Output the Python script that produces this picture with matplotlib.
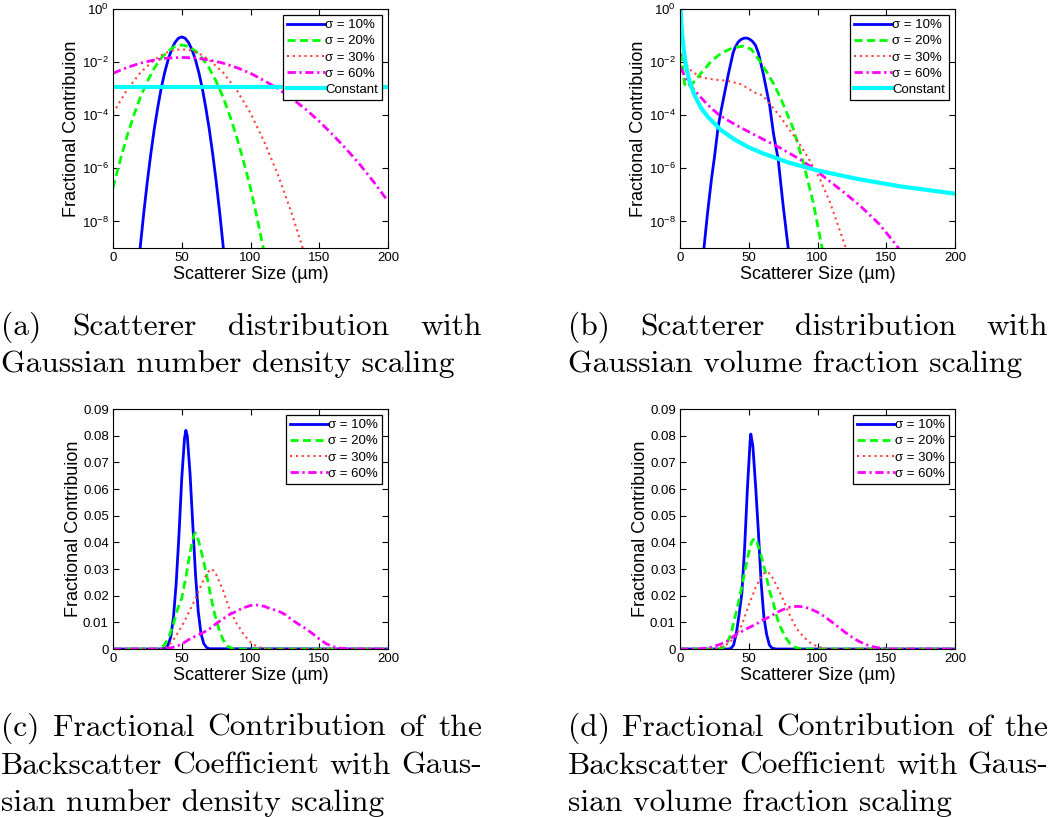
import matplotlib
matplotlib.use("Agg")
import matplotlib.pyplot as plt
from matplotlib.ticker import FixedLocator, FuncFormatter, NullLocator

plt.rcParams['font.family'] = ['Liberation Sans', 'DejaVu Sans']
plt.rcParams['mathtext.fontset'] = 'custom'
plt.rcParams['mathtext.rm'] = 'Liberation Sans'

labels5 = ['σ = 10%', 'σ = 20%', 'σ = 30%', 'σ = 60%', 'Constant']

# (a) number density scaling, log axis
a_x10 = [18, 20, 22.5, 25, 27.5, 30, 32.5, 35, 37.5, 40, 42.5, 45, 47.5, 50,
         52.5, 55, 57.5, 60, 62.5, 65, 67.5, 70, 72.5, 75, 77.5, 80, 82]
a_y10 = [1.1e-10, 1.35e-9, 2.4e-8, 3.3e-7, 3.5e-6, 3.0e-5, 1.9e-4, 1.0e-3, 3.9e-3, 1.2e-2, 2.9e-2, 5.4e-2, 7.9e-2, 8.9e-2,
         7.9e-2, 5.4e-2, 2.9e-2, 1.2e-2, 3.9e-3, 1.0e-3, 1.9e-4, 3.0e-5, 3.5e-6, 3.3e-7, 2.4e-8, 1.35e-9, 1.1e-10]
a_x20 = [0, 5, 10, 15, 20, 25, 30, 35, 40, 45, 50, 55, 60, 65, 70, 75, 80, 85, 90, 95, 100, 105, 110]
a_y20 = [1.8e-7, 1.8e-6, 1.5e-5, 9.5e-5, 4.9e-4, 1.9e-3, 5.9e-3, 1.4e-2, 2.6e-2, 3.9e-2, 4.4e-2,
         3.9e-2, 2.6e-2, 1.4e-2, 5.9e-3, 1.9e-3, 4.9e-4, 9.5e-5, 1.5e-5, 1.8e-6, 1.8e-7, 1.2e-8, 6.8e-10]
a_x30 = [0, 10, 20, 30, 35, 40, 45, 50, 55, 60, 65, 70, 80, 90, 100, 110, 120, 130, 140]
a_y30 = [1.2e-4, 8.7e-4, 4.1e-3, 1.2e-2, 1.8e-2, 2.4e-2, 2.9e-2, 3.0e-2, 2.9e-2, 2.4e-2, 1.8e-2, 1.2e-2,
         4.1e-3, 8.7e-4, 1.2e-4, 1.0e-5, 5.6e-7, 2.0e-8, 4.6e-10]
a_x60 = [0, 10, 20, 30, 40, 50, 60, 70, 80, 90, 100, 110, 120, 130, 140, 150, 160, 170, 180, 190, 200]
a_y60 = [3.8e-3, 6.2e-3, 9.2e-3, 1.2e-2, 1.43e-2, 1.5e-2, 1.43e-2, 1.2e-2, 9.2e-3, 6.2e-3, 3.8e-3,
         2.0e-3, 1.0e-3, 4.3e-4, 1.7e-4, 5.9e-5, 1.8e-5, 5.1e-6, 1.3e-6, 2.9e-7, 5.7e-8]
a_xc = [0, 200]
a_yc = [1.2e-3, 1.2e-3]

# (b) volume fraction scaling, log axis
b_x10 = [15, 17.5, 20, 22.9, 25, 27.7, 30, 35, 38.6, 40, 42.2, 44, 46, 47.8, 49.5, 51.5, 53, 55, 57,
         60.4, 65.3, 68, 71.4, 75, 78.6, 80]
b_y10 = [1e-10, 1.1e-9, 2e-8, 4e-7, 2.5e-6, 3.5e-5, 1.6e-4, 3.2e-3, 2.2e-2, 3.5e-2, 5.6e-2, 6.9e-2, 7.8e-2,
         8.1e-2, 7.8e-2, 6.8e-2, 5.8e-2, 4.2e-2, 2.2e-2, 4.0e-3, 2.2e-4, 2.0e-5, 2.2e-6, 4.0e-8, 1.1e-9, 2.5e-10]
b_x20 = [0.5, 3.4, 5.8, 9.5, 15.6, 22.9, 30.1, 38.6, 45.9, 52, 58, 64.1, 69, 74, 82.3, 89.6, 96.8, 103, 105]
b_y20 = [2.2e-2, 1.45e-3, 1.1e-3, 1.65e-3, 4.0e-3, 1.1e-2, 2.2e-2, 3.5e-2, 4.0e-2, 3.0e-2, 1.1e-2, 3.5e-3,
         1.25e-3, 3.5e-4, 3.2e-5, 1.7e-6, 5.4e-8, 1.25e-9, 2.5e-10]
b_x30 = [1, 4, 8.3, 15.6, 25.3, 35, 44.7, 54.4, 60, 64, 68, 72.6, 76.2, 84.7, 93.2, 101.7, 109, 120, 122]
b_y30 = [1.95e-2, 8.9e-3, 4.6e-3, 2.6e-3, 2.2e-3, 1.95e-3, 1.45e-3, 7.1e-4, 5.6e-4, 3.2e-4, 1.8e-4, 9.3e-5,
         5.0e-5, 1.26e-5, 2.5e-6, 4.0e-7, 5.4e-8, 1.25e-9, 5e-10]
b_x60 = [0.5, 3, 7, 12, 20, 27.7, 35, 44.7, 58, 72.6, 87.1, 97, 106.6, 118, 130.8, 145, 157.5, 160]
b_y60 = [6.3e-3, 3.2e-3, 1.45e-3, 7.1e-4, 2.5e-4, 1.1e-4, 6.3e-5, 3.3e-5, 1.45e-5, 6.0e-6, 2.2e-6, 1.0e-6,
         4.0e-7, 1.4e-7, 4.0e-8, 7.9e-9, 1.25e-9, 8e-10]
b_xc = [0.5, 1, 1.5, 2, 3, 4, 5, 7, 10, 15, 20, 30, 40, 50, 60, 80, 100, 130, 160, 200]
b_yc = [0.8, 0.25, 0.12, 0.065, 2.2e-2, 9.4e-3, 4.9e-3, 1.86e-3, 6.6e-4, 2.0e-4, 8.9e-5, 2.7e-5, 1.19e-5,
        6.2e-6, 3.7e-6, 1.59e-6, 8.3e-7, 3.9e-7, 2.1e-7, 1.11e-7]

# (c) backscatter contribution, number density scaling
c_x10 = [0, 35, 38, 40, 42, 44, 46, 48, 50, 52, 53, 54, 56, 58, 60, 62, 64, 66, 68, 70, 200]
c_y10 = [0, 0, 0.0003, 0.0014, 0.0045, 0.012, 0.025, 0.043, 0.064, 0.079, 0.082, 0.080, 0.066, 0.047,
         0.028, 0.014, 0.0058, 0.002, 0.0006, 0.0001, 0]
c_x20 = [0, 32, 35, 38, 41, 44, 47, 50, 53, 56, 59, 60, 62, 65, 68, 71, 74, 77, 80, 83, 86, 90, 200]
c_y20 = [0, 0, 0.0003, 0.002, 0.005, 0.0095, 0.015, 0.019, 0.027, 0.036, 0.043, 0.0435, 0.041, 0.035,
         0.028, 0.020, 0.013, 0.0075, 0.0035, 0.0012, 0.0003, 0, 0]
c_x30 = [0, 35, 40, 45, 50, 55, 60, 65, 70, 72, 75, 80, 85, 90, 95, 100, 105, 110, 115, 200]
c_y30 = [0, 0, 0.001, 0.0042, 0.0085, 0.0135, 0.019, 0.025, 0.0295, 0.030, 0.028, 0.022, 0.0145,
         0.0095, 0.0055, 0.0025, 0.0008, 0.0002, 0, 0]
c_x60 = [0, 35, 40, 45, 50, 55, 60, 65, 70, 75, 80, 85, 90, 95, 100, 105, 110, 115, 120, 125, 130,
         135, 140, 145, 150, 155, 160, 165, 170, 175, 200]
c_y60 = [0, 0, 0.0002, 0.0008, 0.0018, 0.0035, 0.0048, 0.006, 0.0075, 0.0095, 0.0113, 0.013, 0.0142,
         0.0155, 0.0163, 0.0165, 0.016, 0.015, 0.0143, 0.013, 0.011, 0.0093, 0.0077, 0.0058, 0.0038,
         0.002, 0.0009, 0.0003, 0.0001, 0, 0]

# (d) backscatter contribution, volume fraction scaling
d_x10 = [0, 35, 37, 39, 41, 43, 45, 47, 49, 51, 51.5, 53, 55, 57, 59, 61, 63, 65, 67, 70, 200]
d_y10 = [0, 0, 0.0002, 0.0015, 0.006, 0.013, 0.021, 0.038, 0.060, 0.078, 0.0806, 0.076, 0.061, 0.044,
         0.025, 0.012, 0.0055, 0.0015, 0.0003, 0, 0]
d_x20 = [0, 28, 31, 34, 37, 40, 43, 46, 49, 52, 54, 56, 59, 62, 65, 68, 71, 74, 77, 80, 83, 86, 90, 200]
d_y20 = [0, 0, 0.0003, 0.002, 0.0055, 0.012, 0.0185, 0.026, 0.034, 0.040, 0.0415, 0.040, 0.035, 0.029,
         0.022, 0.017, 0.011, 0.0072, 0.0042, 0.002, 0.0008, 0.0002, 0, 0]
d_x30 = [0, 25, 30, 35, 40, 45, 50, 55, 60, 63, 66, 70, 75, 80, 85, 90, 95, 100, 105, 110, 200]
d_y30 = [0, 0, 0.0008, 0.002, 0.0045, 0.009, 0.0165, 0.023, 0.028, 0.029, 0.028, 0.024, 0.0185, 0.0125,
         0.0075, 0.0045, 0.0022, 0.0009, 0.0002, 0, 0]
d_x60 = [0, 10, 15, 20, 25, 30, 35, 40, 45, 50, 55, 60, 65, 70, 75, 80, 85, 90, 95, 100, 105, 110, 115,
         120, 125, 130, 135, 140, 145, 150, 155, 200]
d_y60 = [0, 0, 0.0001, 0.0004, 0.001, 0.0019, 0.0031, 0.0052, 0.0066, 0.008, 0.0092, 0.0108, 0.012,
         0.0136, 0.0148, 0.0157, 0.016, 0.0158, 0.015, 0.0138, 0.0122, 0.0103, 0.0083, 0.0063, 0.0045,
         0.0029, 0.0017, 0.0009, 0.0004, 0.0001, 0, 0]

captions = {
    'a': ['(a) Scatterer distribution with', 'Gaussian number density scaling'],
    'b': ['(b) Scatterer distribution with', 'Gaussian volume fraction scaling'],
    'c': ['(c) Fractional Contribution of the', 'Backscatter Coefficient with Gaus-', 'sian number density scaling'],
    'd': ['(d) Fractional Contribution of the', 'Backscatter Coefficient with Gaus-', 'sian volume fraction scaling'],
}

styles = [dict(color='#0000ff', ls='-', lw=2.0),
          dict(color='#00ff00', ls=(0, (2.9, 1.6)), lw=2.0),
          dict(color='#ff4040', ls=(0, (1, 1.8)), lw=1.5),
          dict(color='#ff00ff', ls=(0, (3.0, 1.3, 0.8, 1.3)), lw=2.0),
          dict(color='#00ffff', ls='-', lw=3.0)]

W, H = 1050, 817
fig = plt.figure(figsize=(W / 100, H / 100), dpi=100)


def make_axes(left, top, right, bottom):
    return fig.add_axes([left / W, 1 - bottom / H, (right - left) / W, (bottom - top) / H])


def style_axes(ax):
    ax.set_xlim(0, 200)
    ax.set_xticks([0, 50, 100, 150, 200])
    ax.tick_params(direction='in', top=True, right=True, length=4, width=0.8, labelsize=9.5, pad=3)
    for s in ax.spines.values():
        s.set_linewidth(0.8)
    ax.set_xlabel('Scatterer Size (µm)', fontsize=13, labelpad=1)
    ax.set_ylabel('Fractional Contribuion', fontsize=13, labelpad=1)


def add_legend(ax):
    leg = ax.legend(loc='upper right', fontsize=9.5, handlelength=2.9, handletextpad=0.0,
                    labelspacing=0.3, borderpad=0.3, borderaxespad=0.45, fancybox=False,
                    framealpha=1, edgecolor='black')
    leg.get_frame().set_linewidth(0.9)


log_sets = [
    ((113, 9, 388, 248), [(a_x10, a_y10), (a_x20, a_y20), (a_x30, a_y30), (a_x60, a_y60), (a_xc, a_yc)]),
    ((680, 9, 955, 248), [(b_x10, b_y10), (b_x20, b_y20), (b_x30, b_y30), (b_x60, b_y60), (b_xc, b_yc)]),
]
for box, series in log_sets:
    ax = make_axes(*box)
    for (xs, ys), st, lab in zip(series, styles, labels5):
        ax.semilogy(xs, ys, label=lab, **st)
    ax.set_ylim(1e-9, 1)
    ax.yaxis.set_major_locator(FixedLocator([1e0, 1e-2, 1e-4, 1e-6, 1e-8]))
    ax.yaxis.set_minor_locator(NullLocator())
    style_axes(ax)
    add_legend(ax)

lin_sets = [
    ((113, 409, 388, 649), [(c_x10, c_y10), (c_x20, c_y20), (c_x30, c_y30), (c_x60, c_y60)]),
    ((680, 409, 955, 649), [(d_x10, d_y10), (d_x20, d_y20), (d_x30, d_y30), (d_x60, d_y60)]),
]
for box, series in lin_sets:
    ax = make_axes(*box)
    for (xs, ys), st, lab in zip(series, styles, labels5):
        ax.plot(xs, ys, label=lab, **st)
    ax.set_ylim(0, 0.09)
    ax.set_yticks([0, 0.01, 0.02, 0.03, 0.04, 0.05, 0.06, 0.07, 0.08, 0.09])
    ax.yaxis.set_major_formatter(FuncFormatter(lambda v, p: '0' if abs(v) < 1e-9 else '%.2f' % v))
    style_axes(ax)
    add_legend(ax)

# captions, justified like the LaTeX source
renderer = fig.canvas.get_renderer()
cap_font = dict(family='cmr10', size=22.7)


def justified(lines, x0, x1, y0, step):
    for i, line in enumerate(lines):
        y = 1 - (y0 + i * step) / H
        words = line.split(' ')
        if i == len(lines) - 1:
            fig.text(x0 / W, y, line, va='baseline', ha='left', **cap_font)
            continue
        texts = [fig.text(0, y, w, va='baseline', ha='left', **cap_font) for w in words]
        widths = [t.get_window_extent(renderer).width for t in texts]
        gap = (x1 - x0 - sum(widths)) / (len(words) - 1)
        x = x0
        for t, w in zip(texts, widths):
            t.set_x(x / W)
            x += w + gap


justified(captions['a'], 1, 482, 335, 37)
justified(captions['b'], 568, 1048, 335, 37)
justified(captions['c'], 1, 482, 736, 37.5)
justified(captions['d'], 568, 1048, 736, 37.5)

fig.savefig('out.png', dpi=100)
